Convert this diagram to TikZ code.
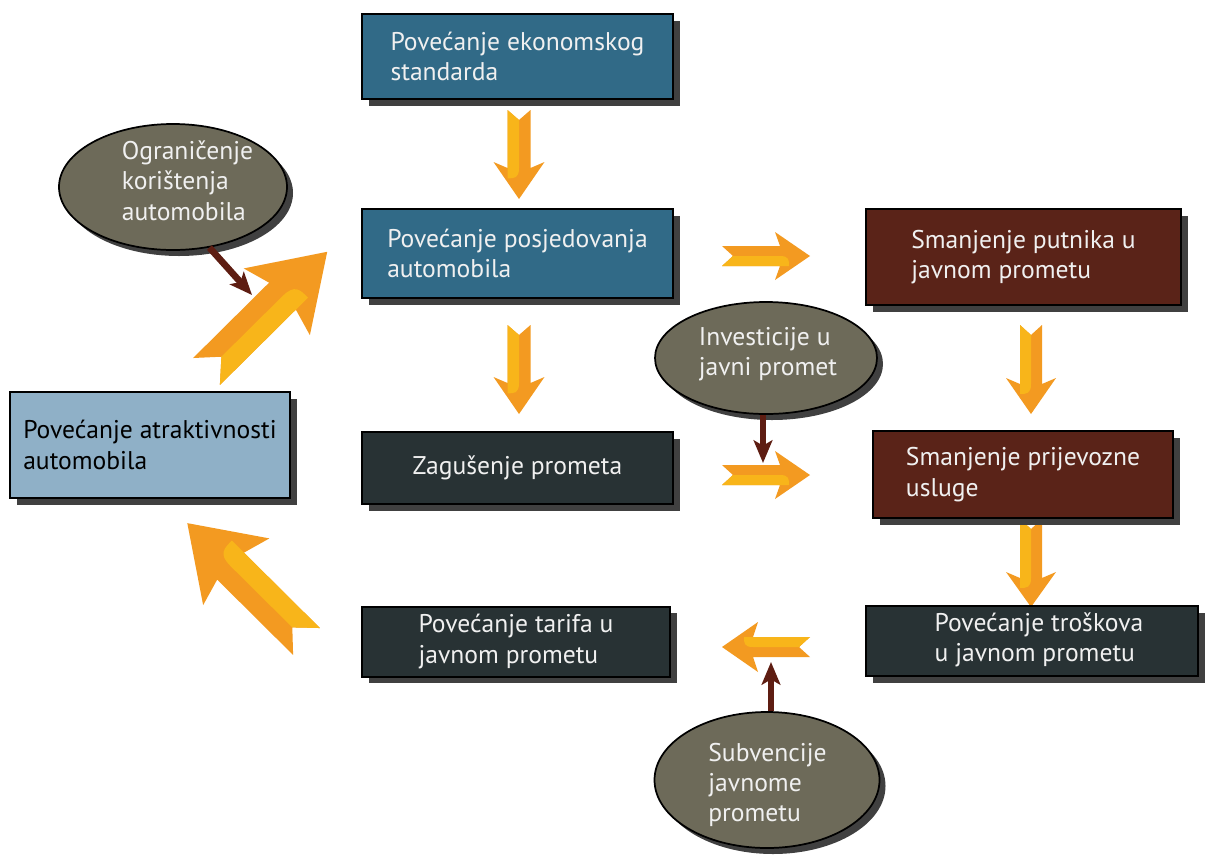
\documentclass[tikz,border=0pt]{standalone}
\usepackage{fontspec}
\setmainfont{PT Sans}
\usetikzlibrary{shapes.geometric,shadows,arrows.meta}
\definecolor{boxblue}{HTML}{316A87}
\definecolor{boxslate}{HTML}{283234}
\definecolor{boxbrown}{HTML}{5A2318}
\definecolor{boxlight}{HTML}{8FB0C7}
\definecolor{ellfill}{HTML}{6D6A59}
\definecolor{shadowgray}{HTML}{404040}
\definecolor{ordark}{HTML}{F39A21}
\definecolor{oryel}{HTML}{F8B51A}
\definecolor{connred}{HTML}{5E1D12}
\definecolor{txtwhite}{HTML}{F0F0F0}
\tikzset{
  wh/.style 2 args={minimum width=#1*0.75pt, minimum height=#2*0.75pt},
  txt/.style={font=\fontsize{19.2}{22.8}\selectfont, align=left, inner sep=0pt},
  box/.style={draw=black, line width=1.5pt, inner sep=0pt, txt, text=txtwhite,
    drop shadow={shadow xshift=5pt, shadow yshift=-5pt, fill=shadowgray, opacity=1}},
  ell/.style={shape=ellipse, draw=black, line width=1.3pt, fill=ellfill, inner sep=0pt,
    drop shadow={shadow xshift=4.5pt, shadow yshift=-4.5pt, fill=shadowgray, opacity=1}},
  conn/.style={draw=connred, line width=5pt, -{Stealth[length=17pt, width=14pt, inset=4pt]}},
}
\newcommand{\blockarr}[9]{%
  \begin{scope}[shift={(#1,#2)}, rotate=#3]
    \pgfmathsetmacro{\wa}{#4-#7}
    \pgfmathsetmacro{\ja}{#4-#7+#9}
    \pgfmathsetmacro{\ra}{\ja+0.9*#5}
    \pgfmathsetmacro{\cb}{0.4*#5}
    \fill[ordark] (0,-#5) -- (\ja,-#5) -- (\wa,-#6) -- (#4,0) -- (\wa,#6) -- (\ja,#5) -- (0,#5) -- (#8,0) -- cycle;
    \fill[oryel] (0,#5) -- (#8,0) -- (\ja,0) .. controls (\ra,0) and (\ra,\cb) .. (\ra,#5) -- cycle;
  \end{scope}}
\begin{document}
\begin{tikzpicture}[x=0.75pt, y=-0.75pt]
\useasboundingbox (0,0) rectangle (1206,861);
\fill[white] (0,0) rectangle (1206,861);

% block arrows
\blockarr{519}{110}{-90}{89}{11.5}{25.5}{37}{10}{6}
\blockarr{519}{325}{-90}{89}{11.5}{25.5}{37}{10}{6}
\blockarr{1031}{325}{-90}{89}{11}{25}{36}{10}{6}
\blockarr{1031}{519}{-90}{88}{11}{25}{35}{10}{6}
\blockarr{722}{256}{0}{88}{10}{24}{35}{11}{5}
\blockarr{722}{475}{0}{88}{10}{24}{35}{11}{5}
\blockarr{810}{647}{180}{88}{10}{25}{36}{11}{5}
\blockarr{206.5}{371.5}{44.76}{170}{19}{47}{71}{21}{8}
\blockarr{306.5}{641.5}{135.2}{168}{19}{47}{69}{20}{8}

% boxes
\node[box, fill=boxblue, wh={311}{85}] (eko) at (517.5,56.5) {Povećanje ekonomskog\\standarda};
\node[box, fill=boxblue, wh={311}{89}] (pos) at (517.5,253.5) {Povećanje posjedovanja\\automobila};
\node[box, fill=boxslate, wh={311}{72}] (zag) at (517.5,468) {Zagušenje prometa};
\node[box, fill=boxbrown, wh={315}{96}] (put) at (1023.5,257) {Smanjenje putnika u\\javnom prometu};
\node[box, fill=boxbrown, wh={300}{87}] (pri) at (1023,474.5) {Smanjenje prijevozne\\usluge};
\node[box, fill=boxslate, wh={332}{70}] (tro) at (1032,641) {};
\node[txt, text=txtwhite] (trot) at (1039,640) {Povećanje troškova\\u javnom prometu};
\node[box, fill=boxslate, wh={308}{70}] (tar) at (516,641.5) {Povećanje tarifa u\\javnom prometu};
\node[box, fill=boxlight, text=black, wh={280}{106}] (atr) at (150,445) {Povećanje atraktivnosti\\automobila};

% ellipses
\node[ell, wh={228}{126}] (og) at (173,187) {};
\node[txt, text=txtwhite] (ogt) at (187.5,180.5) {Ograničenje\\korištenja\\automobila};
\node[ell, wh={222}{112}] (inv) at (766,358) {};
\node[txt, text=txtwhite] (invt) at (768,354) {Investicije u\\javni promet};
\node[ell, wh={225}{136}] (sub) at (767,780) {};
\node[txt, text=txtwhite] (subt) at (767.5,785) {Subvencije\\javnome\\prometu};

% connectors
\coordinate (ogtip) at (252,295);
\coordinate (invtip) at (763,463);
\coordinate (subtip) at (771,662);
\draw[conn] (og.-59.6) -- (ogtip);
\draw[conn] (inv.south -| invtip) -- (invtip);
\draw[conn] (sub.north -| subtip) -- (subtip);
\end{tikzpicture}
\end{document}
